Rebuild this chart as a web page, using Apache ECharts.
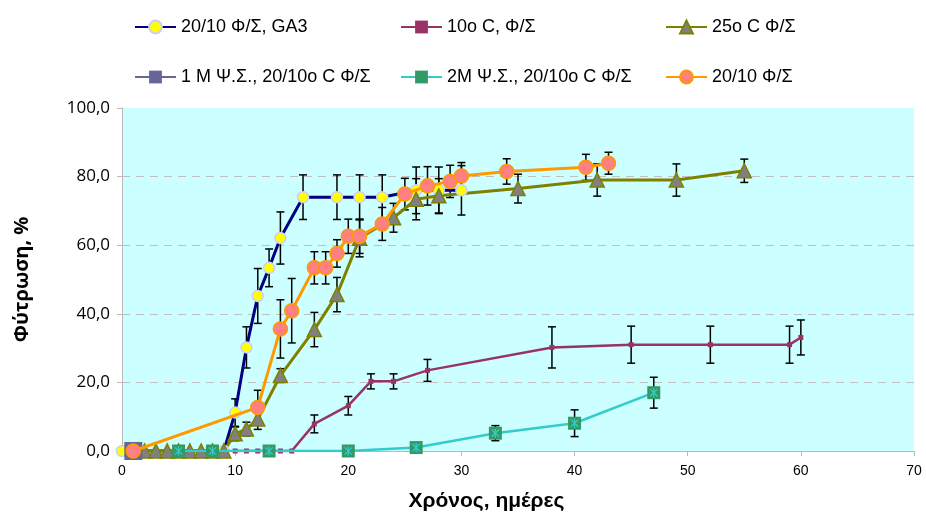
<!DOCTYPE html>
<html><head><meta charset="utf-8">
<script src="https://cdn.jsdelivr.net/npm/echarts@6/dist/echarts.min.js"></script>
<style>html,body{margin:0;padding:0;background:#fff}#c{width:926px;height:514px}</style>
</head><body><div id="c"></div>
<script>
// Series names
var names = ['20/10 Φ/Σ, GA3', '10o C, Φ/Σ', '25o C Φ/Σ', '1 M Ψ.Σ., 20/10o C Φ/Σ', '2M Ψ.Σ., 20/10o C Φ/Σ', '20/10 Φ/Σ'];

// 20/10 Φ/Σ, GA3
var ga3X = [0, 9, 10, 11, 12, 13, 14, 16, 19, 21, 23, 26, 28, 30];
var ga3Y = [0, 0, 11.2, 30.2, 45.2, 53.4, 62.1, 74, 74, 74, 74, 76, 76, 76];
var ga3E = [0, 0, 4, 6, 8, 5.5, 7.6, 6.5, 6.5, 6.5, 6.5, 6.8, 6.8, 7.2];

// 10o C, Φ/Σ
var t10X = [10, 11, 12, 13, 14, 15, 17, 20, 22, 24, 27, 38, 45, 52, 59, 60];
var t10Y = [0, 0, 0, 0, 0, 0, 7.9, 13.2, 20.3, 20.3, 23.5, 30.2, 31, 31, 31, 33.1];
var t10E = [0, 0, 0, 0, 0, 0, 2.6, 2.7, 2.2, 2.2, 3.2, 6, 5.4, 5.4, 5.4, 5.1];

// 25o C Φ/Σ
var t25X = [1, 2, 3, 4, 5, 6, 7, 8, 9, 10, 11, 12, 14, 17, 19, 21, 24, 26, 28, 35, 42, 49, 55];
var t25Y = [0, 0, 0, 0, 0, 0, 0, 0, 0, 5.0, 6.4, 9.3, 22, 35.4, 45.6, 62, 68, 73.4, 74.4, 76.5, 79, 79, 81.7];
var t25E = [0, 0, 0, 0, 0, 0, 0, 0, 0, 2, 2, 3, 2, 5, 5, 5.4, 4.2, 6, 5, 4.2, 4.7, 4.7, 3.4];

// 1 M Ψ.Σ., 20/10o C Φ/Σ
var m1X = [1];
var m1Y = [0];

// 2M Ψ.Σ., 20/10o C Φ/Σ
var m2X = [5, 8, 13, 20, 26, 33, 40, 47];
var m2Y = [0, 0, 0, 0, 1.0, 5.2, 8.1, 17.0];
var m2E = [0, 0, 0, 0, 0, 2.2, 3.9, 4.5];

// 20/10 Φ/Σ
var o20X = [1, 12, 14, 15, 17, 18, 19, 20, 21, 23, 25, 27, 29, 30, 34, 41, 43];
var o20Y = [0, 12.7, 35.6, 40.9, 53.4, 53.4, 57.6, 62.6, 62.6, 66.2, 74.9, 77.3, 78.6, 80.2, 81.5, 82.7, 83.9];
var o20E = [0, 5, 8.5, 9.4, 4.7, 4.7, 4, 5, 5, 4.8, 4.6, 5.6, 4.7, 3.9, 3.7, 3.8, 3.2];

// Axis ticks
var xMin = 0, xMax = 70, xStep = 10;
var yMin = 0, yMax = 100, yStep = 20;

function pairs(xs, ys) { return xs.map(function (x, i) { return [x, ys[i]]; }); }

function errSeries(xs, ys, es) {
  var d = [];
  xs.forEach(function (x, i) { if (es[i] > 0) d.push([x, ys[i] - es[i], ys[i] + es[i]]); });
  return {
    type: 'custom', silent: true, z: 3,
    data: d,
    encode: { x: 0, y: [1, 2] },
    renderItem: function (params, api) {
      var x = api.value(0), lo = api.value(1), hi = api.value(2);
      var p1 = api.coord([x, lo]), p2 = api.coord([x, hi]);
      var w = 4, st = { stroke: '#000', lineWidth: 1.5 };
      return { type: 'group', children: [
        { type: 'line', shape: { x1: p1[0], y1: p1[1], x2: p2[0], y2: p2[1] }, style: st },
        { type: 'line', shape: { x1: p1[0] - w, y1: p1[1], x2: p1[0] + w, y2: p1[1] }, style: st },
        { type: 'line', shape: { x1: p2[0] - w, y1: p2[1], x2: p2[0] + w, y2: p2[1] }, style: st }
      ]};
    }
  };
}

function starSeries(xs, ys) {
  return {
    type: 'custom', silent: true, z: 6,
    data: pairs(xs, ys),
    renderItem: function (params, api) {
      var p = api.coord([api.value(0), api.value(1)]);
      var r = 4.5, st = { stroke: '#33CCCC', lineWidth: 1.3 };
      return { type: 'group', children: [
        { type: 'line', shape: { x1: p[0], y1: p[1] - r, x2: p[0], y2: p[1] + r }, style: st },
        { type: 'line', shape: { x1: p[0] - r * 0.8, y1: p[1] - r * 0.8, x2: p[0] + r * 0.8, y2: p[1] + r * 0.8 }, style: st },
        { type: 'line', shape: { x1: p[0] - r * 0.8, y1: p[1] + r * 0.8, x2: p[0] + r * 0.8, y2: p[1] - r * 0.8 }, style: st }
      ]};
    }
  };
}

var legendPos = [[134, 18], [400, 18], [665, 18], [134, 68], [400, 68], [665, 68]];
var legends = names.map(function (n, i) {
  return {
    data: [n], left: legendPos[i][0], top: legendPos[i][1], padding: 0,
    itemWidth: 41, itemHeight: 16, selectedMode: false,
    textStyle: { fontFamily: 'Liberation Sans', fontSize: 18, color: '#000' }
  };
});

var font = 'Liberation Sans';
var option = {
  animation: false,
  legend: legends,
  grid: { left: 122, right: 12, top: 108, bottom: 63, show: true, backgroundColor: '#CCFFFF', borderWidth: 0,
    outerBoundsMode: 'none', containLabel: false },
  xAxis: {
    type: 'value', min: xMin, max: xMax, interval: xStep,
    name: 'Χρόνος, ημέρες', nameLocation: 'middle', nameGap: 40,
    nameTextStyle: { fontFamily: font, fontSize: 21, fontWeight: 'bold', color: '#000', padding: [0, 63, 0, 0] },
    axisLine: { show: true, lineStyle: { color: '#B8B8B8', width: 1 } },
    axisTick: { show: true, length: 5, lineStyle: { color: '#B8B8B8' } },
    axisLabel: { fontFamily: font, fontSize: 14, color: '#000', margin: 13 },
    splitLine: { show: false }
  },
  yAxis: {
    type: 'value', min: yMin, max: yMax, interval: yStep,
    name: 'Φύτρωση, %', nameLocation: 'middle', nameGap: 90, nameRotate: 90,
    nameTextStyle: { fontFamily: 'Open Sans', fontSize: 20, fontWeight: 'bold', color: '#000' },
    axisLine: { show: true, lineStyle: { color: '#B8B8B8', width: 1 } },
    axisTick: { show: true, length: 5, lineStyle: { color: '#B8B8B8' } },
    axisLabel: { fontFamily: 'Open Sans', fontSize: 17, color: '#000', margin: 12, padding: [6, 0, 0, 0],
      formatter: function (v) { return v.toFixed(1).replace('.', ','); } },
    splitLine: { show: true, showMinLine: false, showMaxLine: false, lineStyle: { color: '#C0C0C0', type: [8, 6], width: 1 } }
  },
  series: [
    errSeries(ga3X, ga3Y, ga3E),
    errSeries(t10X, t10Y, t10E),
    errSeries(t25X, t25Y, t25E),
    errSeries(m2X, m2Y, m2E),
    errSeries(o20X, o20Y, o20E),
    { name: names[0], type: 'line', data: pairs(ga3X, ga3Y), z: 4,
      lineStyle: { color: '#000080', width: 3 }, itemStyle: { color: '#FFFF00', borderColor: '#CCCCFF', borderWidth: 1.5 },
      symbol: 'circle', symbolSize: 11, showAllSymbol: true },
    { name: names[1], type: 'line', data: pairs(t10X, t10Y), z: 4,
      lineStyle: { color: '#993366', width: 2.5 }, itemStyle: { color: '#993366', borderWidth: 0 },
      symbol: 'rect', symbolSize: 5, showAllSymbol: true },
    { name: names[2], type: 'line', data: pairs(t25X, t25Y), z: 4,
      lineStyle: { color: '#808000', width: 3 }, itemStyle: { color: '#808080', borderColor: '#808000', borderWidth: 1.5 },
      symbol: 'triangle', symbolSize: 14, showAllSymbol: true },
    { name: names[3], type: 'line', data: pairs(m1X, m1Y), z: 4,
      lineStyle: { color: '#666699', width: 3 }, itemStyle: { color: '#666699', borderWidth: 0 },
      symbol: 'rect', symbolSize: 18, showAllSymbol: true },
    { name: names[4], type: 'line', data: pairs(m2X, m2Y), z: 5,
      lineStyle: { color: '#33CCCC', width: 2.5 }, itemStyle: { color: '#339966', borderWidth: 0 },
      symbol: 'rect', symbolSize: 13, showAllSymbol: true },
    starSeries(m2X, m2Y),
    { name: names[5], type: 'line', data: pairs(o20X, o20Y), z: 7,
      lineStyle: { color: '#FF9900', width: 3 }, itemStyle: { color: '#FF8080', borderColor: '#FF9900', borderWidth: 1.5 },
      symbol: 'circle', symbolSize: 14, showAllSymbol: true }
  ]
};
var chart = echarts.init(document.getElementById('c'), null, { renderer: 'canvas' });
chart.setOption(option);
</script>
</body></html>
